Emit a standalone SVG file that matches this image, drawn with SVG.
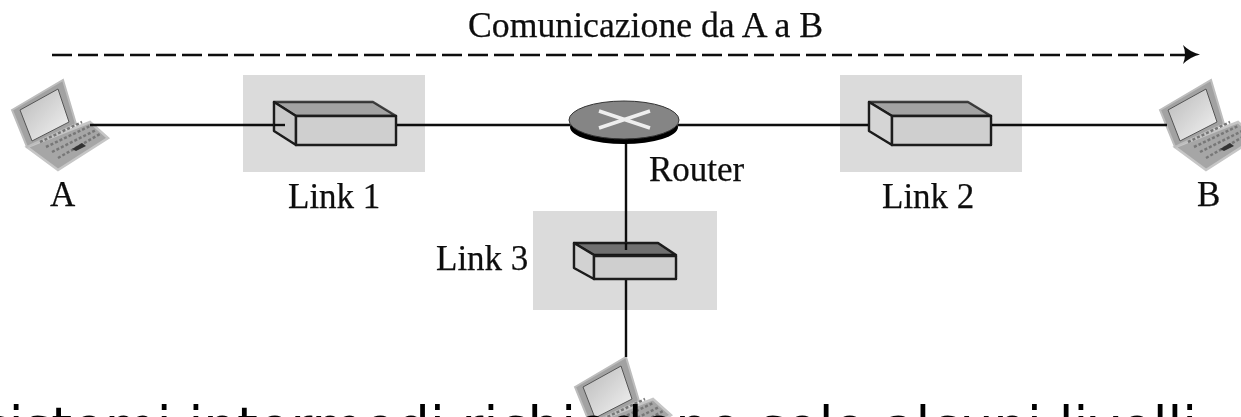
<svg xmlns="http://www.w3.org/2000/svg" width="1241" height="417" viewBox="0 0 1241 417">
<style>
.t{font-family:"Liberation Serif","Times New Roman",serif;font-size:35px;fill:#111;stroke:#111;stroke-width:.25}
.w{fill:none;stroke:#111;stroke-width:2.4}
.bg{fill:#dbdbdb}
.e{stroke:#1a1a1a;stroke-width:2.4;stroke-linejoin:round}
.s{filter:url(#soft)}
</style>
<defs>
<filter id="soft" x="-5%" y="-5%" width="110%" height="110%"><feGaussianBlur stdDeviation="0.55"/></filter>
<linearGradient id="scr" x1="0" y1="0" x2="1" y2="1"><stop offset="0" stop-color="#b8b8b8"/><stop offset="1" stop-color="#f4f4f4"/></linearGradient>
<g id="laptop">
<path d="M27 147 L90 122 L108 138 L58 170 Z" fill="#a6a6a6" stroke="#c6c6c6" stroke-width="2.5"/>
<path d="M12 110 L63 80 L76 124 L27 147 Z" fill="#a2a2a2" stroke="#bdbdbd" stroke-width="2"/>
<path d="M20 110 L58 89 L69 122 L32 141 Z" fill="url(#scr)" stroke="#555" stroke-width="1"/>
<path d="M40 142 L82 122 M46 147 L90 126 M52 152 L96 130 M58 158 L100 134" fill="none" stroke="#777" stroke-width="2.5" stroke-dasharray="3 2"/>
<path d="M72 149 L82 143 L86 146 L76 151Z" fill="#333"/>
</g>
</defs>
<g id="link1-bg"><rect class="bg" x="243" y="75" width="182" height="97"/></g>
<g id="link2-bg"><rect class="bg" x="840" y="75" width="182" height="97"/></g>
<g id="link3-bg"><rect class="bg" x="533" y="211" width="184" height="99"/></g>
<g id="laptop-a" class="s"><use href="#laptop"/></g>
<g id="laptop-b" class="s"><use href="#laptop" x="1148"/></g>
<g id="laptop-c" class="s"><use href="#laptop" x="563" y="277"/></g>
<g id="connectors" class="s">
<path class="w" d="M90 125H285"/>
<path class="w" d="M396 125H570"/>
<path class="w" d="M678 125H868"/>
<path class="w" d="M991 125H1167"/>
<path class="w" d="M626 143V250"/>
<path class="w" d="M626 279V357"/>
<path d="M52 55H1190" fill="none" stroke="#111" stroke-width="2.4" stroke-dasharray="20 6"/>
<path d="M1183 45 Q1190 52 1200 54.500 Q1190 57 1183 64 Q1187 54.500 1183 45Z" fill="#111"/>
</g>
<g id="switch1" class="s">
<path class="e" d="M274 102H373L396 116H296Z" fill="#a3a3a3" stroke-opacity=".8"/>
<path class="e" d="M274 102L296 116V145L274 131Z" fill="#c9c9c9"/>
<path class="e" d="M296 116H396V145H296Z" fill="#cfcfcf"/>
<path class="w" d="M274 125H285"/>
</g>
<g id="switch2" class="s">
<path class="e" d="M869 102H968L991 116H892Z" fill="#a3a3a3" stroke-opacity=".8"/>
<path class="e" d="M869 102L892 116V145L869 131Z" fill="#d5d5d5"/>
<path class="e" d="M892 116H991V145H892Z" fill="#cfcfcf"/>
</g>
<g id="switch3" class="s">
<path class="e" d="M574 243H658L676 255H594Z" fill="#6f6f6f"/>
<path class="e" d="M574 243L594 255V279L574 268Z" fill="#d2d2d2" stroke="#555"/>
<path class="e" d="M594 256H676V279H594Z" fill="#cfcfcf"/>
<path class="w" d="M626 243V250"/>
</g>
<g id="router" class="s">
<ellipse cx="624" cy="127" rx="54" ry="17" fill="#000"/>
<ellipse cx="624" cy="120" rx="55" ry="19" fill="#858585" stroke="#333" stroke-width="1"/>
<path d="M599 111L650 128M650 111L599 128" stroke="#eee" stroke-width="3.500" fill="none"/>
</g>
<g id="labels" class="s">
<text class="t" x="468" y="37" textLength="355" lengthAdjust="spacingAndGlyphs">Comunicazione da A a B</text>
<text class="t" x="50" y="206">A</text>
<text class="t" x="1197" y="206">B</text>
<text class="t" x="288" y="208">Link 1</text>
<text class="t" x="882" y="208">Link 2</text>
<text class="t" x="436" y="270">Link 3</text>
<text class="t" x="649" y="181">Router</text>
</g>
<text x="-19" y="445" font-family="'DejaVu Sans',sans-serif" font-size="53" fill="#000" textLength="1216" lengthAdjust="spacingAndGlyphs">sistemi intermedi richiedono solo alcuni livelli</text>
</svg>
